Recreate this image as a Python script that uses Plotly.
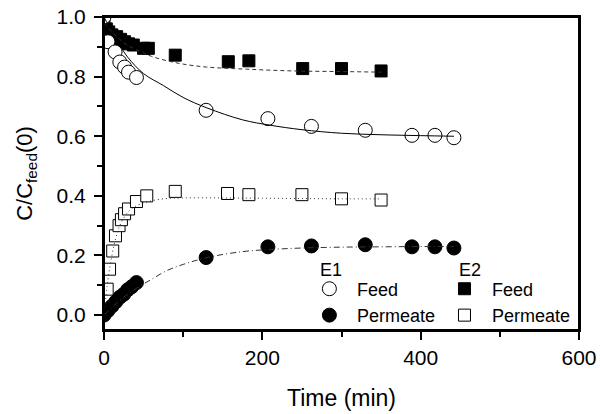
import plotly.graph_objects as go

# ---- data ----
# E1 feed (open circles)
e1_feed_t = [0, 5, 14, 20, 26, 31, 41, 129, 207, 262, 330, 389, 418, 442]
e1_feed_y = [1.0, 0.917, 0.883, 0.849, 0.832, 0.815, 0.797, 0.687, 0.659, 0.633, 0.620, 0.603, 0.603, 0.595]
# E1 permeate (filled circles)
e1_perm_t = [0, 5, 10, 15, 20, 25, 30, 35, 41, 129, 207, 262, 330, 389, 418, 442]
e1_perm_y = [0.0, 0.015, 0.03, 0.045, 0.06, 0.07, 0.085, 0.095, 0.109, 0.193, 0.229, 0.232, 0.236, 0.229, 0.229, 0.225]
# E2 feed (filled squares)
e2_feed_t = [0, 3, 6, 10, 16, 21, 26, 31, 37, 50, 56, 90, 157, 183, 251, 300, 350]
e2_feed_y = [1.0, 0.96, 0.95, 0.94, 0.934, 0.925, 0.917, 0.91, 0.906, 0.895, 0.895, 0.872, 0.850, 0.853, 0.827, 0.827, 0.819]
# E2 permeate (open squares)
e2_perm_t = [4, 7, 11, 14.5, 19, 22, 26, 31, 41, 54, 90, 156, 183, 250, 300, 350]
e2_perm_y = [0.087, 0.154, 0.215, 0.266, 0.30, 0.32, 0.34, 0.356, 0.381, 0.40, 0.415, 0.408, 0.404, 0.404, 0.39, 0.386]

# fitted curves
fit_e1_feed_t = [0, 10, 20, 30, 50, 75, 100, 130, 175, 210, 250, 300, 350, 400, 442]
fit_e1_feed_y = [1.0, 0.95, 0.905, 0.865, 0.81, 0.77, 0.73, 0.695, 0.655, 0.637, 0.622, 0.61, 0.605, 0.602, 0.60]
fit_e1_perm_t = [0, 10, 20, 30, 41, 60, 80, 100, 130, 175, 210, 250, 300, 350, 400, 442]
fit_e1_perm_y = [0.0, 0.025, 0.05, 0.07, 0.09, 0.12, 0.15, 0.17, 0.193, 0.213, 0.22, 0.225, 0.228, 0.229, 0.23, 0.23]
fit_e2_feed_t = [0, 10, 20, 30, 45, 60, 80, 100, 130, 180, 240, 300, 350]
fit_e2_feed_y = [0.98, 0.95, 0.925, 0.905, 0.885, 0.868, 0.853, 0.842, 0.832, 0.825, 0.819, 0.817, 0.815]
fit_e2_perm_t = [0, 5, 10, 15, 20, 30, 40, 55, 75, 100, 150, 200, 250, 300, 350]
fit_e2_perm_y = [0.0, 0.12, 0.2, 0.26, 0.3, 0.345, 0.365, 0.38, 0.39, 0.393, 0.393, 0.392, 0.391, 0.39, 0.39]

x_ticks = [0, 200, 400, 600]
y_ticks = [0.0, 0.2, 0.4, 0.6, 0.8, 1.0]
group_labels = ["E1", "E2"]

FONT = "Arial, Liberation Sans, sans-serif"
MS = 13

fig = go.Figure()

# markers
fig.add_trace(go.Scatter(x=e2_feed_t, y=e2_feed_y, mode="markers", name="Feed",
                         marker=dict(symbol="square", size=MS - 1, color="black", line=dict(color="black", width=1)),
                         legend="legend2", legendrank=1))
fig.add_trace(go.Scatter(x=e2_perm_t, y=e2_perm_y, mode="markers", name="Permeate",
                         marker=dict(symbol="square", size=MS - 1, color="white", line=dict(color="black", width=1)),
                         legend="legend2", legendrank=2))
fig.add_trace(go.Scatter(x=e1_feed_t, y=e1_feed_y, mode="markers", name="Feed",
                         marker=dict(symbol="circle", size=MS + 1, color="white", line=dict(color="black", width=1)),
                         legend="legend", legendrank=1))
fig.add_trace(go.Scatter(x=e1_perm_t, y=e1_perm_y, mode="markers", name="Permeate",
                         marker=dict(symbol="circle", size=MS + 1, color="black", line=dict(color="black", width=1)),
                         legend="legend", legendrank=2))

# fitted lines on top
fig.add_trace(go.Scatter(x=fit_e1_feed_t, y=fit_e1_feed_y, mode="lines", line_shape="spline",
                         line=dict(color="black", width=1), showlegend=False, hoverinfo="skip"))
fig.add_trace(go.Scatter(x=fit_e2_feed_t, y=fit_e2_feed_y, mode="lines", line_shape="spline",
                         line=dict(color="#333", width=1, dash="4px,3px"), showlegend=False, hoverinfo="skip"))
fig.add_trace(go.Scatter(x=fit_e2_perm_t, y=fit_e2_perm_y, mode="lines", line_shape="spline",
                         line=dict(color="#333", width=1, dash="1px,3px"), showlegend=False, hoverinfo="skip"))
fig.add_trace(go.Scatter(x=fit_e1_perm_t, y=fit_e1_perm_y, mode="lines", line_shape="spline",
                         line=dict(color="#333", width=1, dash="6px,3px,1px,3px"), showlegend=False, hoverinfo="skip"))

axis_common = dict(showline=True, linecolor="black", linewidth=2, mirror=True,
                   ticks="outside", ticklen=8, tickwidth=2, tickcolor="black",
                   showgrid=False, zeroline=False, automargin=False,
                   tickfont=dict(family=FONT, size=21, color="black"))

fig.update_xaxes(range=[0, 600], tickvals=x_ticks, ticktext=[str(v) for v in x_ticks],
                 minor=dict(tickvals=[100, 300, 500], ticks="outside", ticklen=5, tickwidth=2, tickcolor="black"),
                 title=dict(text="Time (min)", font=dict(family=FONT, size=23, color="black"), standoff=22),
                 **axis_common)
fig.update_yaxes(range=[-0.05, 1.0], tickvals=y_ticks, ticktext=[f"{v:.1f}" for v in y_ticks],
                 minor=dict(tickvals=[0.1, 0.3, 0.5, 0.7, 0.9], ticks="outside", ticklen=5, tickwidth=2, tickcolor="black"),
                 title=dict(text="C/C<sub>feed</sub>(0)", font=dict(family=FONT, size=22, color="black"), standoff=18),
                 ticklabelstandoff=4,
                 **axis_common)

# plot frame (top/right edges)
fig.add_shape(type="rect", xref="paper", yref="paper", x0=0, x1=1, y0=0, y1=1,
              line=dict(color="black", width=2), fillcolor="rgba(0,0,0,0)", layer="above")

leg_font = dict(family=FONT, size=18, color="black")
fig.update_layout(
    width=600, height=414,
    margin=dict(l=104, r=21, t=17, b=84),
    paper_bgcolor="white", plot_bgcolor="white",
    showlegend=True,
    hovermode=False,
    legend=dict(x=0.4166, y=0.19, xanchor="left", yanchor="top", bgcolor="rgba(0,0,0,0)",
                font=leg_font, itemwidth=45, tracegroupgap=0),
    legend2=dict(x=0.701, y=0.19, xanchor="left", yanchor="top", bgcolor="rgba(0,0,0,0)",
                 font=leg_font, itemwidth=45, tracegroupgap=0),
)
for lbl, xp in zip(group_labels, [0.4505, 0.743]):
    fig.add_annotation(text=lbl, xref="paper", yref="paper", x=xp, y=0.1917,
                       xanchor="left", yanchor="middle", showarrow=False, font=leg_font)

fig.write_html("out.html", config={"displayModeBar": False},
               post_script="document.body.style.margin='0';document.body.style.overflow='hidden';")
